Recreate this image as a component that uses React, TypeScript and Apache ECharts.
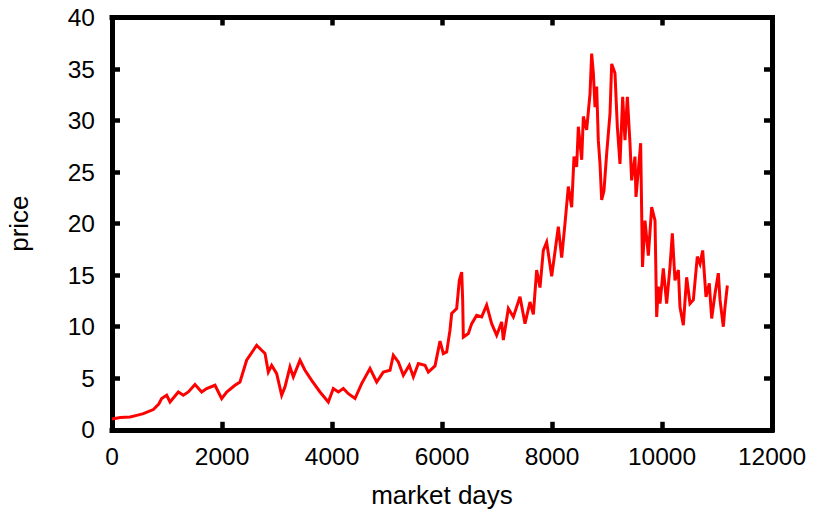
import React, { useEffect, useRef } from "react";
import * as echarts from "echarts";

const days: number[] = [
  0, 150, 327, 450, 570, 752, 850, 903, 994, 1055, 1206, 1297, 1388, 1509, 1630, 1721, 1873, 1994,
  2085, 2236, 2327, 2448, 2570, 2630, 2721, 2782, 2842, 2903, 2994, 3085, 3145, 3236, 3297, 3418,
  3509, 3630, 3782, 3933, 4024, 4115, 4206, 4297, 4418, 4539, 4691, 4812, 4933, 5055, 5115, 5206,
  5297, 5406, 5479, 5570, 5691, 5752, 5873, 5964, 6024, 6085, 6145, 6176, 6267, 6315, 6358, 6376,
  6388, 6479, 6540, 6630, 6721, 6812, 6903, 6994, 7085, 7115, 7206, 7297, 7418, 7509, 7600, 7661,
  7721, 7782, 7842, 7903, 7994, 8055, 8115, 8176, 8236, 8297, 8358, 8400, 8448, 8479, 8540, 8570,
  8630, 8691, 8721, 8752, 8782, 8812, 8842, 8873, 8903, 8945, 8994, 9055, 9085, 9145, 9188, 9236,
  9285, 9327, 9370, 9418, 9448, 9509, 9527, 9570, 9612, 9645, 9691, 9752, 9812, 9873, 9903, 9933,
  9964, 10024, 10085, 10145, 10188, 10236, 10297, 10327, 10388, 10448, 10509, 10570, 10642, 10691,
  10740, 10800, 10860, 10903, 10964, 11024, 11055, 11115, 11145, 11188,
];

const prices: number[] = [
  1.05, 1.2, 1.24, 1.4, 1.57, 1.96, 2.5, 3.03, 3.35, 2.7, 3.67, 3.35, 3.67, 4.39, 3.67, 4.0, 4.32, 3.03,
  3.67, 4.32, 4.64, 6.75, 7.72, 8.2, 7.72, 7.4, 5.6, 6.26, 5.45, 3.35, 4.16, 6.1, 5.13, 6.75,
  5.78, 4.8, 3.67, 2.7, 4.0, 3.67, 4.0, 3.5, 3.03, 4.48, 5.94, 4.64, 5.6, 5.78, 7.23, 6.58,
  5.29, 6.26, 5.13, 6.43, 6.26, 5.6, 6.2, 8.6, 7.4, 7.55, 9.66, 11.28, 11.77, 14.5, 15.3, 12.57,
  9.0, 9.34, 10.3, 11.1, 10.95, 12.1, 10.3, 9.17, 10.46, 8.7, 11.77, 10.95, 12.9, 10.3, 12.4, 11.2,
  15.5, 13.8, 17.4, 18.2, 14.9, 17.3, 19.7, 16.7, 20.0, 23.6, 21.6, 26.5, 25.5, 29.4, 26.2, 30.4,
  29.1, 32.6, 36.5, 34.6, 31.3, 33.3, 28.1, 25.8, 22.3, 23.2, 26.8, 30.7, 35.5, 34.6, 29.4, 25.8,
  32.3, 28.1, 32.3, 27.8, 24.2, 26.5, 22.6, 25.2, 27.8, 15.8, 20.3, 16.9, 21.6, 20.3, 10.95, 13.9,
  12.25, 15.65, 12.25, 15.8, 19.05, 14.5, 15.5, 11.9, 10.15, 14.8, 12.25, 12.6, 16.8, 16.1,
  17.4, 12.9, 14.2, 10.8, 13.2, 15.2, 12.6, 10.0, 11.9, 14.0,
];

const X_MIN = 0;
const X_MAX = 12000;
const X_STEP = 2000;
const Y_MIN = 0;
const Y_MAX = 40;
const Y_STEP = 5;

const FONT = "'Liberation Sans', Arial, sans-serif";

export default function App() {
  const ref = useRef<HTMLDivElement>(null);
  useEffect(() => {
    if (!ref.current) return;
    const chart = echarts.init(ref.current, undefined, { renderer: "svg" });
    const data = days.map((d, i) => [d, prices[i]]);
    const tickStyle = { show: true, inside: true, length: 8, lineStyle: { color: "#000", width: 4.5 } };
    const lineStyle = { show: true, onZero: false, lineStyle: { color: "#000", width: 5, cap: "square" } };
    const labelStyle = {
      color: "#000",
      fontSize: 24.5,
      fontFamily: FONT,
      formatter: (v: number) => String(v),
    };
    chart.setOption({
      animation: false,
      backgroundColor: "#fff",
      grid: {
        left: 112,
        right: 44,
        top: 17.5,
        bottom: 80.2,
        show: false,
        containLabel: false,
        outerBoundsMode: "none",
      },
      xAxis: [
        {
          type: "value",
          min: X_MIN,
          max: X_MAX,
          interval: X_STEP,
          position: "bottom",
          name: "market days",
          nameLocation: "middle",
          nameGap: 52,
          nameTextStyle: { color: "#000", fontSize: 26, lineHeight: 26, fontFamily: FONT },
          axisLine: lineStyle,
          axisTick: tickStyle,
          splitLine: { show: false },
          axisLabel: { ...labelStyle, margin: 14 },
        },
        {
          type: "value",
          min: X_MIN,
          max: X_MAX,
          interval: X_STEP,
          position: "top",
          axisLine: lineStyle,
          axisTick: tickStyle,
          splitLine: { show: false },
          axisLabel: { show: false },
        },
      ],
      yAxis: [
        {
          type: "value",
          min: Y_MIN,
          max: Y_MAX,
          interval: Y_STEP,
          position: "left",
          name: "price",
          nameLocation: "middle",
          nameGap: 80,
          nameRotate: 90,
          nameTextStyle: { color: "#000", fontSize: 26, fontFamily: FONT },
          axisLine: lineStyle,
          axisTick: tickStyle,
          splitLine: { show: false },
          axisLabel: { ...labelStyle, margin: 17 },
        },
        {
          type: "value",
          min: Y_MIN,
          max: Y_MAX,
          interval: Y_STEP,
          position: "right",
          axisLine: lineStyle,
          axisTick: tickStyle,
          splitLine: { show: false },
          axisLabel: { show: false },
        },
      ],
      series: [
        {
          type: "line",
          xAxisIndex: 0,
          yAxisIndex: 0,
          data,
          showSymbol: false,
          symbol: "none",
          lineStyle: { color: "#ff0000", width: 3, join: "miter" },
          z: 1,
        },
      ],
    });
    return () => chart.dispose();
  }, []);
  return (
    <div
      ref={ref}
      style={{ position: "fixed", left: 0, top: 0, width: 816, height: 510 }}
    />
  );
}
